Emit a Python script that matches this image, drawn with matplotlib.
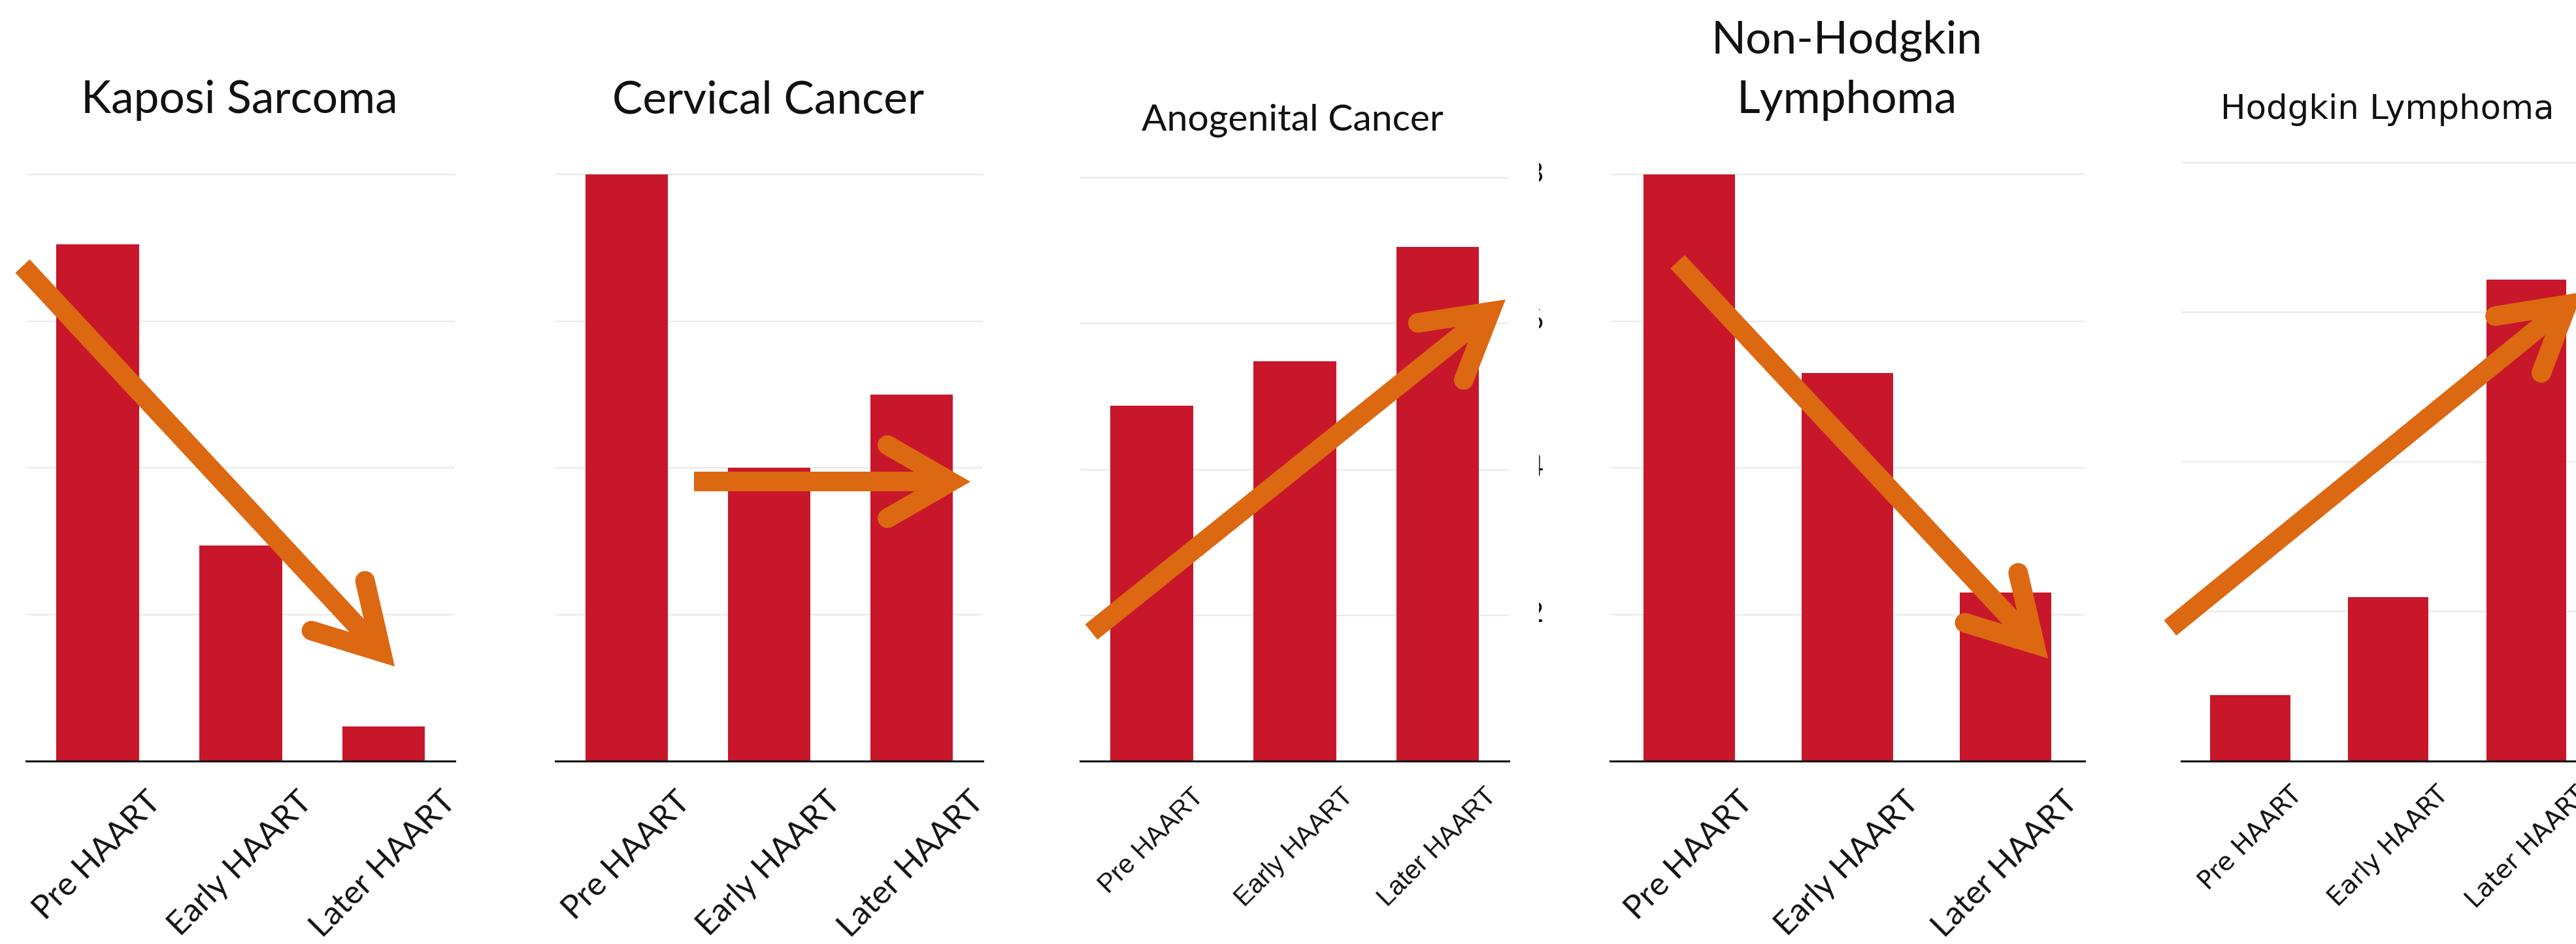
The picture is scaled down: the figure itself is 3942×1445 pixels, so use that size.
import matplotlib
matplotlib.use("Agg")
import numpy as np
import matplotlib.pyplot as plt
from matplotlib.lines import Line2D
from matplotlib.transforms import Bbox, blended_transform_factory

W, H, DPI = 3942, 1445, 100

# ---- data -------------------------------------------------------------
periods = ["Pre HAART", "Early HAART", "Later HAART"]

kaposi = [7.05, 2.94, 0.47]
cervical = [8.0, 4.0, 5.0]
anogenital = [4.87, 5.48, 7.05]
nhl = [8.0, 5.29, 2.30]
hodgkin = [0.88, 2.19, 6.44]

series = [kaposi, cervical, anogenital, nhl, hodgkin]
titles = ["Kaposi Sarcoma", "Cervical Cancer", "Anogenital Cancer",
          "Non-Hodgkin\nLymphoma", "Hodgkin Lymphoma"]
grid_levels = [2, 4, 6, 8]
nhl_tick_labels = ["8", "6", "4", "2"]

# trend arrows per panel: start point -> tip, in that panel's data units
trend_arrows = [
    ((-0.526, 6.75), (2.078, 1.29)),
    ((0.472, 3.81), (2.413, 3.81)),
    ((-0.423, 1.77), (2.475, 6.33)),
    ((-0.074, 6.81), (2.269, 1.40)),
    ((-0.580, 1.78), (2.407, 6.27)),
]

# ---- styling ----------------------------------------------------------
BAR = "#C8172A"
ARROW = "#DC6812"
GRID = "#EAEAEA"
INK = "#111111"
YMAX = 8.0

# pixel layout of each panel (y measured from the top of the canvas)
layout = [
    dict(c0=149.5, step=218.75, base=1165, top=267,
         tx=366, ty=173, tfont="Lato", tsize=50,
         kfont="Lato", ksize=36, kpad=28),
    dict(c0=959.0, step=218.0, base=1165, top=267,
         tx=1176, ty=173, tfont="Lato", tsize=50,
         kfont="Lato", ksize=36, kpad=28),
    dict(c0=1762.5, step=218.75, base=1165, top=272,
         tx=1978, ty=200, tfont="Lato", tsize=41,
         kfont="Liberation Sans", ksize=29, kpad=25),
    dict(c0=2585.0, step=242.0, base=1165, top=267,
         tx=2826, ty=173, tfont="Lato", tsize=50,
         kfont="Lato", ksize=36, kpad=28),
    dict(c0=3443.5, step=211.25, base=1165, top=249,
         tx=3653, ty=182, tfont="DejaVu Sans", tsize=37,
         kfont="DejaVu Sans", ksize=28, kpad=23),
]

fig = plt.figure(figsize=(W / DPI, H / DPI), dpi=DPI)
fig.patch.set_facecolor("white")

YTOP = YMAX * 1.04  # headroom so the top gridline is not clipped


def draw_trend_arrow(ax, start, tip, lw_px=30.0, arm_px=112.0, arm_deg=30.0):
    """Thick trend arrow: butt-ended shaft plus an open, mitred chevron head."""
    s = np.asarray(ax.transData.transform(start), dtype=float)
    t = np.asarray(ax.transData.transform(tip), dtype=float)
    u = (t - s) / np.linalg.norm(t - s)
    v = t - u * (lw_px / 2.0) / np.sin(np.radians(arm_deg))

    def rot(vec, deg):
        a = np.radians(deg)
        c, sn = np.cos(a), np.sin(a)
        return np.array([c * vec[0] - sn * vec[1], sn * vec[0] + c * vec[1]])

    e1 = v - arm_px * rot(u, arm_deg)
    e2 = v - arm_px * rot(u, -arm_deg)
    inv = fig.transFigure.inverted()
    lw_pt = lw_px * 72.0 / DPI
    shaft = inv.transform(np.array([s, v]))
    head = inv.transform(np.array([e1, v, e2]))
    fig.add_artist(Line2D(shaft[:, 0], shaft[:, 1], transform=fig.transFigure,
                          color=ARROW, lw=lw_pt, solid_capstyle="butt", zorder=5))
    fig.add_artist(Line2D(head[:, 0], head[:, 1], transform=fig.transFigure,
                          color=ARROW, lw=lw_pt, solid_capstyle="round",
                          solid_joinstyle="miter", zorder=5))


axes = []
for values, title, lay in zip(series, titles, layout):
    x0 = lay["c0"] - 0.5 * lay["step"]
    x1 = lay["c0"] + 2.5 * lay["step"]
    unit = (lay["base"] - lay["top"]) / YMAX
    ax_h = unit * YTOP
    ax = fig.add_axes([x0 / W, (H - lay["base"]) / H, (x1 - x0) / W, ax_h / H])
    axes.append(ax)

    x = np.arange(len(periods))
    ax.bar(x, values, width=0.58, color=BAR, zorder=2)
    ax.set_xlim(-0.5, 2.5)
    ax.set_ylim(0, YTOP)

    ax.set_yticks(grid_levels)
    ax.yaxis.grid(True, color=GRID, lw=1.6, zorder=0)
    ax.set_axisbelow(True)
    ax.tick_params(axis="y", left=False, labelleft=False)

    for side in ("top", "right", "left"):
        ax.spines[side].set_visible(False)
    ax.spines["bottom"].set_color(INK)
    ax.spines["bottom"].set_linewidth(2.2)
    ax.spines["bottom"].set_zorder(3)

    ax.set_xticks(x)
    ax.set_xticklabels(periods, rotation=45, ha="center", va="top",
                       fontfamily=lay["kfont"], fontsize=lay["ksize"], color=INK)
    ax.tick_params(axis="x", length=0, pad=lay["kpad"])

    fig.text(lay["tx"] / W, 1 - lay["ty"] / H, title, ha="center", va="baseline",
             fontfamily=lay["tfont"], fontsize=lay["tsize"], color=INK,
             linespacing=1.55)

# value labels of the lymphoma panel's y axis, mostly hidden behind its neighbour
ax_nhl = axes[3]
tr = blended_transform_factory(fig.transFigure, ax_nhl.transData)
clip = Bbox([[2355, 0], [2420, H]])
for lab in nhl_tick_labels:
    t = ax_nhl.text(2362 / W, float(lab), lab, transform=tr, ha="right", va="center",
                    fontfamily="Lato", fontsize=30, color=INK)
    t.set_clip_box(clip)
    t.set_clip_on(True)

for ax, (start, tip) in zip(axes, trend_arrows):
    draw_trend_arrow(ax, start, tip)

fig.savefig("out.png", dpi=DPI, facecolor="white")
